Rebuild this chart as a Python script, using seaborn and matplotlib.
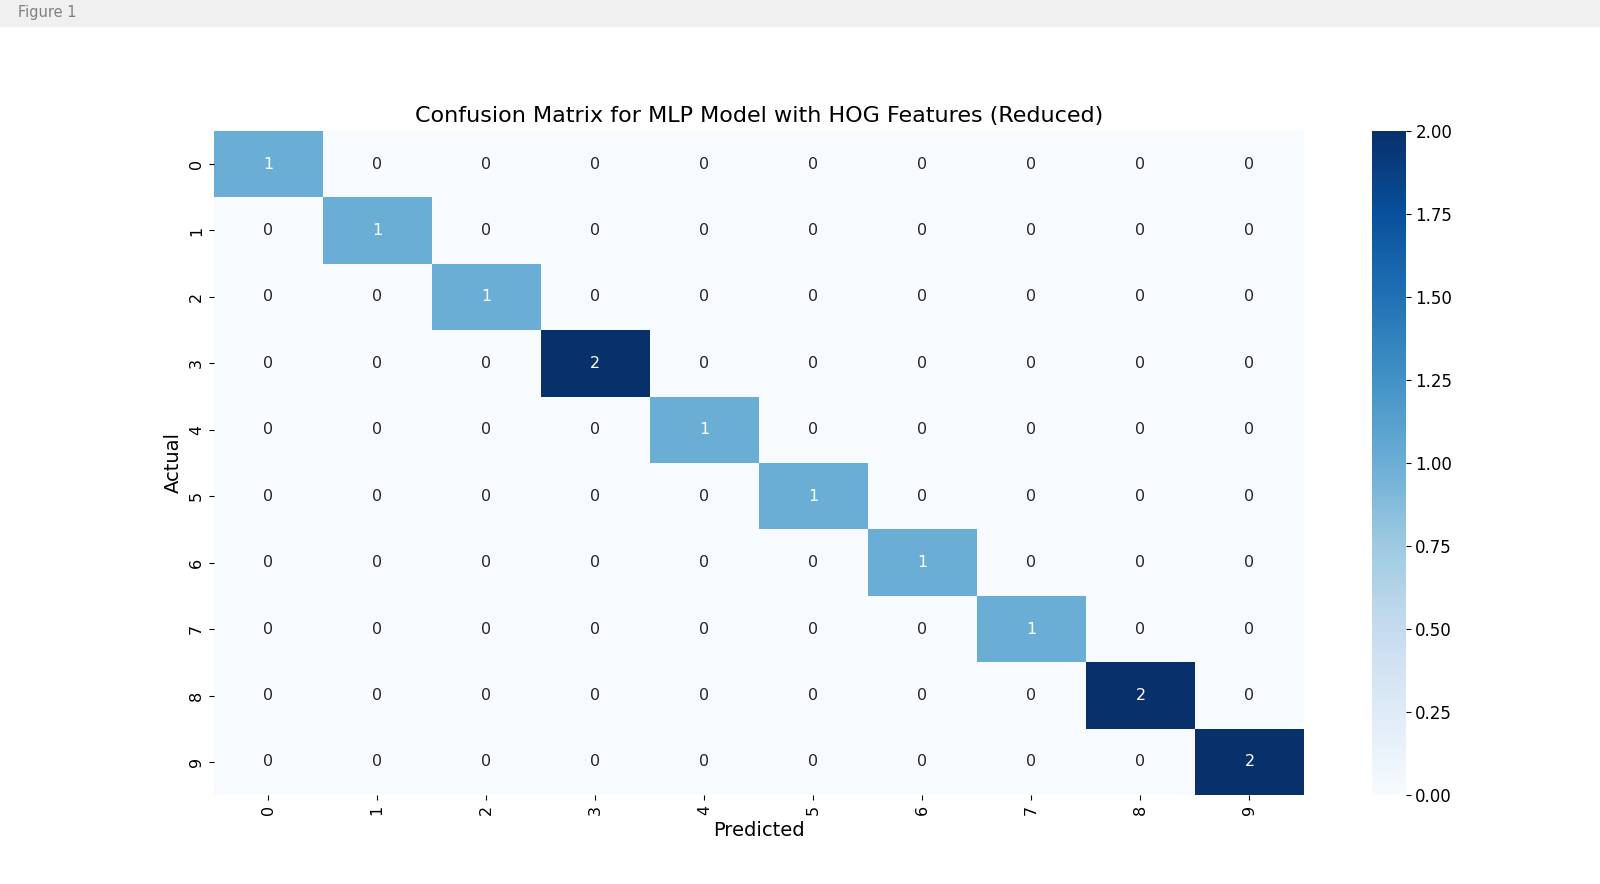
import numpy as np
import pandas as pd
import matplotlib
matplotlib.use("Agg")
import matplotlib.pyplot as plt
import seaborn as sns
from matplotlib.patches import Rectangle

labels = [str(i) for i in range(10)]
diag_counts = [1, 1, 1, 2, 1, 1, 1, 1, 2, 2]
cm = np.diag(diag_counts)
df = pd.DataFrame(cm, index=labels, columns=labels)

fig = plt.figure(figsize=(16, 8.84), dpi=100)
# window title bar
fig.patches.append(Rectangle((0, 1 - 27 / 884), 1, 27 / 884, transform=fig.transFigure,
                             facecolor="#f0f0f0", edgecolor="none", zorder=0))
fig.text(18 / 1600, 1 - 13 / 884, "Figure 1", fontsize=10.5, color="#808080", va="center", ha="left")

ax = fig.add_axes([0.1335, 0.1005, 0.6815, 0.7515])
cax = fig.add_axes([0.8575, 0.1005, 0.021, 0.7515])
sns.heatmap(df, annot=True, fmt="d", cmap="Blues", ax=ax, cbar_ax=cax,
            vmin=0, vmax=2, annot_kws={"fontsize": 11.5})
ax.set_title("Confusion Matrix for MLP Model with HOG Features (Reduced)", fontsize=16)
ax.set_xlabel("Predicted", fontsize=14)
ax.set_ylabel("Actual", fontsize=14)
ax.tick_params(axis="both", labelsize=11.5)
ax.set_xticklabels(labels, rotation=90)
ax.set_yticklabels(labels, rotation=90)
cax.tick_params(labelsize=12)
cax.yaxis.set_major_formatter(matplotlib.ticker.FormatStrFormatter("%.2f"))
cax.set_yticks([0, 0.25, 0.5, 0.75, 1.0, 1.25, 1.5, 1.75, 2.0])

fig.savefig("out.png", dpi=100)
